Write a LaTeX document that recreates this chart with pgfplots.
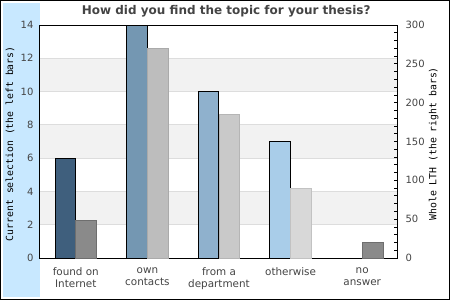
\documentclass[border=0pt]{standalone}
\usepackage{fontspec}
\setmainfont{DejaVu Sans}
\newfontfamily\monofont{DejaVu Sans Mono}
\usepackage{pgfplots}
\pgfplotsset{compat=1.18}
\definecolor{panel}{HTML}{C8E8FF}
\definecolor{band}{HTML}{F2F2F2}
\definecolor{gridc}{HTML}{DDDDDD}
\definecolor{txt}{HTML}{444444}
\definecolor{lA}{HTML}{3F5F7D}
\definecolor{lB}{HTML}{7497B2}
\definecolor{lC}{HTML}{8FB1CD}
\definecolor{lD}{HTML}{A9CDE9}
\definecolor{rA}{HTML}{8A8A8A}
\definecolor{rB}{HTML}{BDBDBD}
\definecolor{rC}{HTML}{C9C9C9}
\definecolor{rD}{HTML}{D8D8D8}
\definecolor{rE}{HTML}{8A8A8A}
\begin{document}
\begin{tikzpicture}
\fill[panel] (-37pt,-39pt) rectangle (0pt,255pt);
\begin{axis}[
  name=ax, at={(0,0)}, anchor=south west,
  scale only axis, width=358pt, height=233pt,
  xmin=-0.5, xmax=4.5, ymin=0, ymax=14,
  ytick={0,2,...,14},
  xtick={0,1,2,3,4},
  xticklabels={{found on\\Internet},{own\\contacts},{from a\\department},{otherwise},{no\\answer}},
  major tick length=0pt,
  axis line style={line width=1pt},
  /pgf/number format/assume math mode=true,
  yticklabel style={font=\fontsize{10}{12}\selectfont, text=txt, xshift=-3pt},
  xticklabel style={font=\fontsize{10.4}{12}\selectfont, text=txt, align=center, anchor=north, yshift=-6pt},
  ylabel={Current selection (the left bars)},
  ylabel style={font=\monofont\fontsize{9.8}{11}\selectfont, at={(axis description cs:-0.084,0.49)}, anchor=center},
  title={How did you find the topic for your thesis?},
  title style={font=\bfseries\fontsize{12}{14}\selectfont, text=txt, at={(axis description cs:0.52,1)}, anchor=south, yshift=-1.5pt},
  ybar, bar width=0.29, bar shift=-0.146,
]
\fill[band] (axis cs:-0.5,2) rectangle (axis cs:4.5,4);
\fill[band] (axis cs:-0.5,6) rectangle (axis cs:4.5,8);
\fill[band] (axis cs:-0.5,10) rectangle (axis cs:4.5,12);
\foreach \g in {2,4,...,12} {
  \edef\tmp{\noexpand\draw[gridc, line width=0.8pt] (axis cs:-0.5,\g) -- (axis cs:4.5,\g);}\tmp
}
\addplot[fill=lA, draw=black, line width=0.9pt] coordinates {(0,6)};
\addplot[fill=lB, draw=black, line width=0.9pt] coordinates {(1,14)};
\addplot[fill=lC, draw=black, line width=0.9pt] coordinates {(2,10)};
\addplot[fill=lD, draw=black, line width=0.9pt] coordinates {(3,7)};
\addplot[draw=none, fill=none] coordinates {(4,0)};
\end{axis}
\begin{axis}[
  at={(0,0)}, anchor=south west,
  scale only axis, width=358pt, height=233pt,
  xmin=-0.5, xmax=4.5, ymin=0, ymax=300,
  axis x line=none, axis y line*=right,
  ytick={0,50,...,300}, minor y tick num=4,
  tick align=inside, major tick length=3.5pt, minor tick length=3.5pt,
  tick style={line width=0.8pt, black},
  axis line style={line width=1pt},
  /pgf/number format/assume math mode=true,
  yticklabel style={font=\fontsize{10}{12}\selectfont, text=txt, xshift=4pt},
  ylabel={Whole LTH (the right bars)},
  ylabel style={font=\monofont\fontsize{9.8}{11}\selectfont, at={(axis description cs:1.1,0.49)}, anchor=center},
  ybar, bar width=0.29, bar shift=0.146,
]
\addplot[fill=rA, draw=rA!80!black, line width=0.8pt] coordinates {(0,48)};
\addplot[fill=rB, draw=rB!90!black, line width=0.8pt] coordinates {(1,270)};
\addplot[fill=rC, draw=rC!90!black, line width=0.8pt] coordinates {(2,185)};
\addplot[fill=rD, draw=rD!90!black, line width=0.8pt] coordinates {(3,90)};
\addplot[fill=rE, draw=rE!80!black, line width=0.8pt] coordinates {(4,20)};
\end{axis}
\pgfresetboundingbox
\path[use as bounding box] (-40pt,-42pt) rectangle (410pt,258pt);
\draw[line width=1pt] (-39.5pt,-41.5pt) rectangle (409.5pt,257.5pt);
\end{tikzpicture}
\end{document}
